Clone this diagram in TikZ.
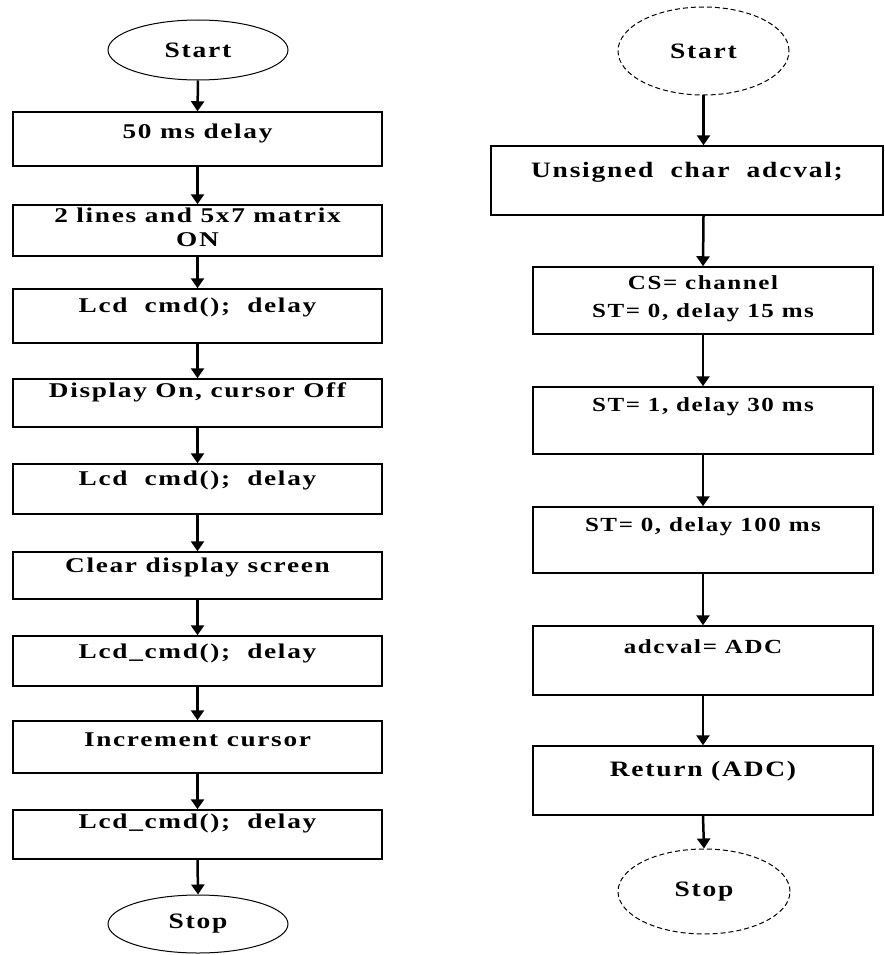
\documentclass[tikz,border=0pt]{standalone}
\usepackage{fontspec}
\setmainfont{Liberation Serif}
\newfontfamily\lfont[LetterSpace=8,FakeStretch=1.3]{Liberation Serif}
\newfontfamily\rfont[LetterSpace=8,FakeStretch=1.25]{Liberation Serif}
\usetikzlibrary{shapes.geometric,arrows.meta}
\tikzset{
  lbox/.style={draw=black, line width=1.5pt, rectangle, inner sep=0pt, minimum width=369pt},
  rbox/.style={draw=black, line width=1.5pt, rectangle, inner sep=0pt, minimum width=340pt},
  ltxt/.style={inner sep=0pt, align=center, font=\lfont\bfseries\fontsize{21}{24}\selectfont},
  rtxt/.style={inner sep=0pt, align=center, font=\rfont\bfseries\fontsize{20}{28}\selectfont},
  rbig/.style={rtxt, font=\rfont\bfseries\fontsize{22}{28}\selectfont},
  term/.style={ellipse, draw=black, line width=1pt, inner sep=0pt, font=\rfont\bfseries\fontsize{22}{24}\selectfont},
  dterm/.style={term, dash pattern=on 5pt off 3pt},
  arr/.style={line width=2.5pt, -{Triangle[length=10pt,width=13pt]}}
}
\begin{document}
\begin{tikzpicture}[x=1pt,y=-1pt]
\useasboundingbox (0,0) rectangle (884,955);
% ---------- left flowchart ----------
\node[term, minimum width=180pt, minimum height=60pt] (ls) at (198,50) {Start};
\node[lbox, minimum height=54pt] (b1) at (197.5,139) {};
\node[ltxt] (b1t) at ([yshift=-22pt]b1.north) {50 ms delay};
\node[lbox, minimum height=51pt] (b2) at (197.5,230.5) {};
\node[ltxt] (b2t) at ([yshift=-23pt]b2.north) {2 lines and 5x7 matrix\\ON};
\node[lbox, minimum height=54pt] (b3) at (197.5,316) {};
\node[ltxt] (b3t) at ([yshift=-19pt]b3.north) {Lcd\ \ cmd();\ \ delay};
\node[lbox, minimum height=48pt] (b4) at (197.5,403) {};
\node[ltxt] (b4t) at ([yshift=-14pt]b4.north) {Display On, cursor Off};
\node[lbox, minimum height=50pt] (b5) at (197.5,489) {};
\node[ltxt] (b5t) at ([yshift=-17pt]b5.north) {Lcd\ \ cmd();\ \ delay};
\node[lbox, minimum height=47pt] (b6) at (197.5,575.5) {};
\node[ltxt] (b6t) at ([yshift=-16pt]b6.north) {Clear display screen};
\node[lbox, minimum height=50pt] (b7) at (197.5,661) {};
\node[ltxt] (b7t) at ([yshift=-18pt]b7.north) {Lcd\_cmd();\ \ delay};
\node[lbox, minimum height=52pt] (b8) at (197.5,747) {};
\node[ltxt] (b8t) at ([yshift=-19pt]b8.north) {Increment cursor};
\node[lbox, minimum height=49pt] (b9) at (197.5,834.5) {};
\node[ltxt] (b9t) at ([yshift=-14pt]b9.north) {Lcd\_cmd();\ \ delay};
\node[term, minimum width=180pt, minimum height=58pt] (le) at (198,924) {Stop};
\draw[arr] (ls.south) -- (b1.north);
\draw[arr] (b1.south) -- (b2.north);
\draw[arr] (b2.south) -- (b3.north);
\draw[arr] (b3.south) -- (b4.north);
\draw[arr] (b4.south) -- (b5.north);
\draw[arr] (b5.south) -- (b6.north);
\draw[arr] (b6.south) -- (b7.north);
\draw[arr] (b7.south) -- (b8.north);
\draw[arr] (b8.south) -- (b9.north);
\draw[arr] (b9.south) -- (le.north);
% ---------- right flowchart ----------
\node[dterm, minimum width=171pt, minimum height=88pt] (rs) at (703.5,51) {Start};
\node[draw=black, line width=1.5pt, rectangle, inner sep=0pt, minimum width=392pt, minimum height=69pt] (r1) at (687,180.5) {};
\node[rbig] (r1t) at ([yshift=-27pt]r1.north) {Unsigned\ \ char\ \ adcval;};
\node[rbox, minimum height=67pt] (r2) at (703,300.5) {};
\node[rtxt] (r2t) at ([yshift=-32pt]r2.north) {CS= channel\\ST= 0, delay 15 ms};
\node[rbox, minimum height=67pt] (r3) at (703,420.5) {};
\node[rtxt] (r3t) at ([yshift=-20pt]r3.north) {ST= 1, delay 30 ms};
\node[rbox, minimum height=66pt] (r4) at (703,540) {};
\node[rtxt] (r4t) at ([yshift=-20pt]r4.north) {ST= 0, delay 100 ms};
\node[rbox, minimum height=69pt] (r5) at (703,660.5) {};
\node[rtxt] (r5t) at ([yshift=-21pt]r5.north) {adcval= ADC};
\node[rbox, minimum height=69pt] (r6) at (703,780.5) {};
\node[rbig] (r6t) at ([yshift=-26pt]r6.north) {Return (ADC)};
\node[dterm, minimum width=172pt, minimum height=85pt] (re) at (704,891.5) {Stop};
\draw[arr] (rs.south) -- (rs.south |- r1.north);
\draw[arr] (rs.south |- r1.south) -- (r2.north);
\draw[arr] (r2.south) -- (r3.north);
\draw[arr] (r3.south) -- (r4.north);
\draw[arr] (r4.south) -- (r5.north);
\draw[arr] (r5.south) -- (r6.north);
\draw[arr] (r6.south) -- (re.north);
\end{tikzpicture}
\end{document}
